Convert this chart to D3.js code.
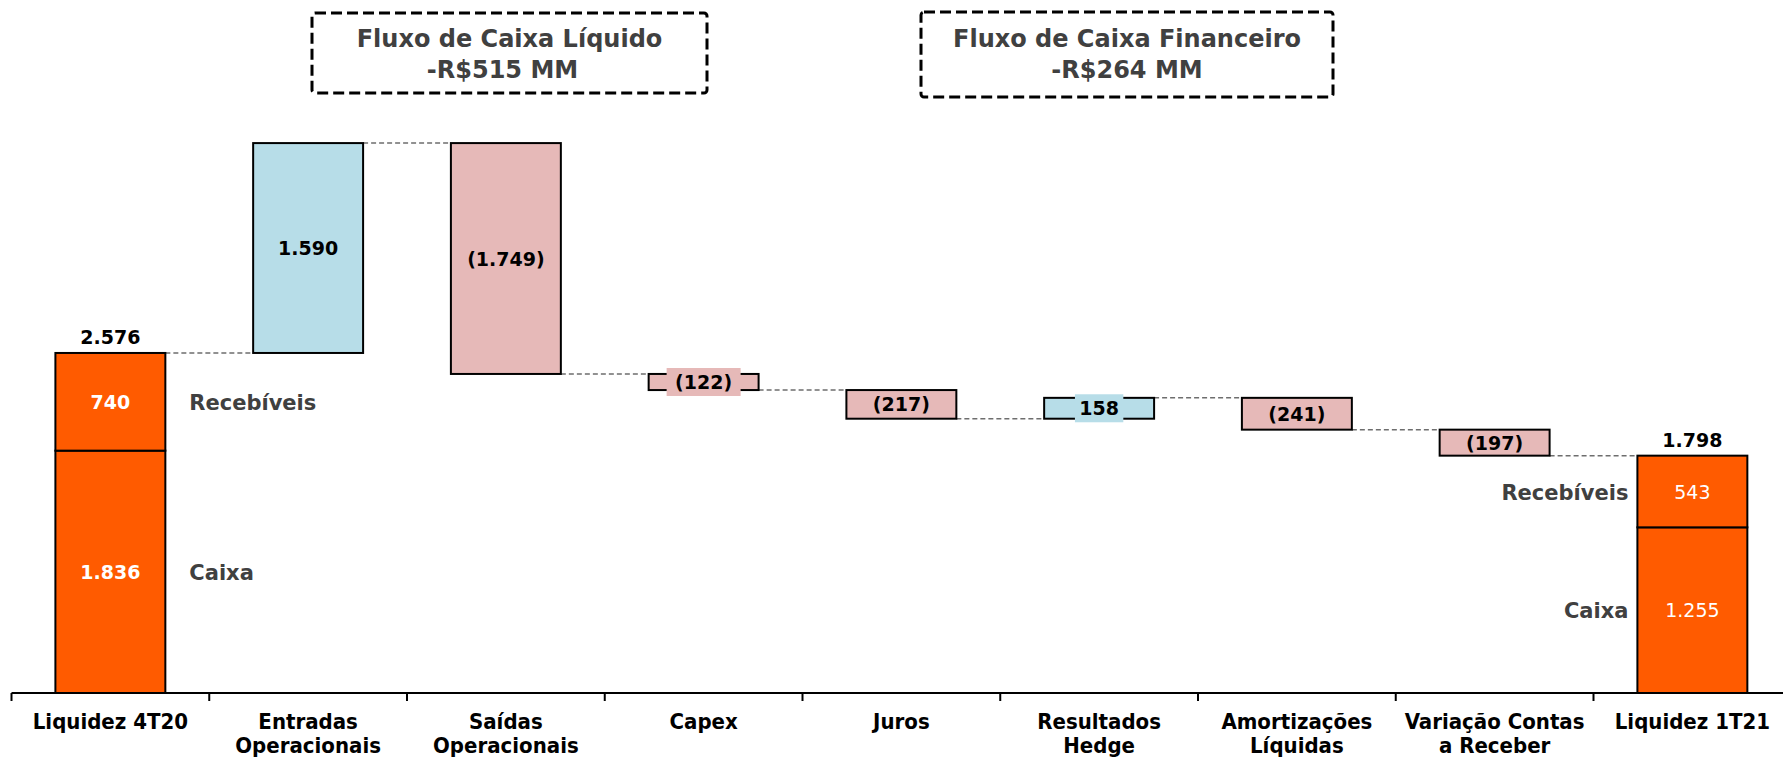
<!DOCTYPE html>
<html>
<head>
<meta charset="utf-8">
<script src="https://cdn.jsdelivr.net/npm/d3@7"></script>
<style>
  body { margin: 0; background: #ffffff; }
  svg { display: block; }
</style>
</head>
<body>
<div id="chart"></div>
<script>
// waterfall: liquidez 4T20 -> 1T21 (R$ MM)

const categories = [
  ["Liquidez 4T20"],
  ["Entradas", "Operacionais"],
  ["Saídas", "Operacionais"],
  ["Capex"],
  ["Juros"],
  ["Resultados", "Hedge"],
  ["Amortizações", "Líquidas"],
  ["Variação Contas", "a Receber"],
  ["Liquidez 1T21"]
];
const stackNames = ["Caixa", "Recebíveis"];
const startStack = [1836, 740];
const endStack = [1255, 543];
const deltas = [1590, -1749, -122, -217, 158, -241, -197];
const boxTitles = [
  ["Fluxo de Caixa Líquido", "-R$515 MM"],
  ["Fluxo de Caixa Financeiro", "-R$264 MM"]
];

const width = 1783, height = 758;
const axisY = 693;
const orange = "#ff5b00", blue = "#b7dde8", pink = "#e6b9b8";

const ptBR = d3.formatLocale({decimal: ",", thousands: ".", grouping: [3], currency: ["R$", ""]});
const fmt = ptBR.format(",d");
const fmtDelta = v => v < 0 ? "(" + fmt(-v) + ")" : fmt(v);

const svg = d3.select("#chart").append("svg")
    .attr("width", width)
    .attr("height", height)
    .style("font-family", "'DejaVu Sans', sans-serif");

const x = d3.scaleBand()
    .domain(d3.range(categories.length))
    .range([11.5, 1791.25])
    .paddingInner(0.444)
    .paddingOuter(0.222);

const y = d3.scaleLinear()
    .domain([0, 5000])
    .range([axisY, axisY - 660]);

// build the floating steps
let running = d3.sum(startStack);
const steps = deltas.map((d, i) => {
    const from = running;
    running += d;
    return {i: i + 1, value: d, from: from, to: running};
});
const startTotal = d3.sum(startStack);

// connectors (drawn first so bars sit over them)
const levels = [startTotal].concat(steps.map(s => s.to));
svg.append("g").selectAll("line")
    .data(levels)
    .join("line")
    .attr("x1", (d, i) => x(i) + x.bandwidth())
    .attr("x2", (d, i) => x(i + 1))
    .attr("y1", d => y(d))
    .attr("y2", d => y(d))
    .attr("stroke", "#6e6e6e")
    .attr("stroke-width", 1.5)
    .attr("stroke-dasharray", "5,3");

// stacked end bars
function stackedBar(idx, values, bold, labelSide) {
    let base = 0;
    const segs = values.map((v, k) => {
        const s = {name: stackNames[k], value: v, y0: base, y1: base + v};
        base += v;
        return s;
    });
    const g = svg.append("g");
    g.selectAll("rect")
        .data(segs)
        .join("rect")
        .attr("x", x(idx))
        .attr("width", x.bandwidth())
        .attr("y", d => y(d.y1))
        .attr("height", d => y(d.y0) - y(d.y1))
        .attr("fill", orange)
        .attr("stroke", "#000")
        .attr("stroke-width", 2);
    g.selectAll("text.val")
        .data(segs)
        .join("text")
        .attr("class", "val")
        .attr("x", x(idx) + x.bandwidth() / 2)
        .attr("y", d => (y(d.y0) + y(d.y1)) / 2 + 7)
        .attr("text-anchor", "middle")
        .attr("fill", "#fff")
        .attr("font-size", 19)
        .attr("font-weight", bold ? "bold" : "normal")
        .text(d => fmt(d.value));
    g.selectAll("text.name")
        .data(segs)
        .join("text")
        .attr("class", "name")
        .attr("x", labelSide > 0 ? x(idx) + x.bandwidth() + 24 : x(idx) - 9)
        .attr("y", d => (y(d.y0) + y(d.y1)) / 2 + 8)
        .attr("text-anchor", labelSide > 0 ? "start" : "end")
        .attr("fill", "#404040")
        .attr("font-size", 21)
        .attr("font-weight", "bold")
        .text(d => d.name);
    g.append("text")
        .attr("x", x(idx) + x.bandwidth() / 2)
        .attr("y", y(base) - 9)
        .attr("text-anchor", "middle")
        .attr("fill", "#000")
        .attr("font-size", 19)
        .attr("font-weight", "bold")
        .text(fmt(base));
}

stackedBar(0, startStack, true, 1);
stackedBar(categories.length - 1, endStack, false, -1);

// floating bars
const fg = svg.append("g");
fg.selectAll("rect")
    .data(steps)
    .join("rect")
    .attr("x", d => x(d.i))
    .attr("width", x.bandwidth())
    .attr("y", d => y(Math.max(d.from, d.to)))
    .attr("height", d => Math.abs(y(d.from) - y(d.to)))
    .attr("fill", d => d.value > 0 ? blue : pink)
    .attr("stroke", "#000")
    .attr("stroke-width", 2);

const lab = fg.selectAll("g.lab")
    .data(steps)
    .join("g")
    .attr("class", "lab")
    .attr("transform", d => `translate(${x(d.i) + x.bandwidth() / 2},${(y(d.from) + y(d.to)) / 2})`);

lab.filter(d => Math.abs(y(d.from) - y(d.to)) < 24)
    .append("rect")
    .attr("x", d => -fmtDelta(d.value).length * 6.4 - 5)
    .attr("width", d => fmtDelta(d.value).length * 12.8 + 10)
    .attr("y", -14)
    .attr("height", 28)
    .attr("fill", d => d.value > 0 ? blue : pink);

lab.append("text")
    .attr("y", 7)
    .attr("text-anchor", "middle")
    .attr("fill", "#000")
    .attr("font-size", 19)
    .attr("font-weight", "bold")
    .text(d => fmtDelta(d.value));

// axis line, boundary ticks and category labels
const ax = svg.append("g");
ax.append("line")
    .attr("x1", x.range()[0])
    .attr("x2", x.range()[1])
    .attr("y1", axisY)
    .attr("y2", axisY)
    .attr("stroke", "#000")
    .attr("stroke-width", 2);
ax.selectAll("line.tick")
    .data(d3.range(categories.length + 1))
    .join("line")
    .attr("class", "tick")
    .attr("x1", i => x.range()[0] + i * x.step())
    .attr("x2", i => x.range()[0] + i * x.step())
    .attr("y1", axisY)
    .attr("y2", axisY + 8)
    .attr("stroke", "#000")
    .attr("stroke-width", 2);
ax.selectAll("text")
    .data(categories)
    .join("text")
    .attr("x", (d, i) => x(i) + x.bandwidth() / 2)
    .attr("y", 729)
    .attr("text-anchor", "middle")
    .attr("font-family", "'DejaVu Sans Condensed', 'DejaVu Sans', sans-serif")
    .style("font-stretch", "condensed")
    .attr("font-size", 22)
    .attr("font-weight", "bold")
    .attr("fill", "#000")
    .selectAll("tspan")
    .data(d => d)
    .join("tspan")
    .attr("x", function() { return this.parentNode.getAttribute("x"); })
    .attr("dy", (d, k) => k === 0 ? 0 : 24)
    .text(d => d);

// dashed annotation boxes
const boxes = [
    {x0: 312, x1: 707, y0: 13, y1: 93},
    {x0: 921, x1: 1333, y0: 12, y1: 97}
];
const bg = svg.selectAll("g.box")
    .data(boxes)
    .join("g")
    .attr("class", "box");
bg.append("rect")
    .attr("x", d => d.x0)
    .attr("y", d => d.y0)
    .attr("width", d => d.x1 - d.x0)
    .attr("height", d => d.y1 - d.y0)
    .attr("rx", 3)
    .attr("fill", "#fff")
    .attr("stroke", "#000")
    .attr("stroke-width", 3)
    .attr("stroke-dasharray", "11,5");
bg.each(function(d, i) {
    const g = d3.select(this);
    boxTitles[i].forEach((t, k) => {
        g.append("text")
            .attr("x", (d.x0 + d.x1) / 2 - (i === 0 && k === 1 ? 7 : 0))
            .attr("y", k === 0 ? 47 : 78)
            .attr("text-anchor", "middle")
            .attr("fill", "#404040")
            .attr("font-size", 24)
            .attr("font-weight", "bold")
            .text(t);
    });
});
</script>
</body>
</html>
